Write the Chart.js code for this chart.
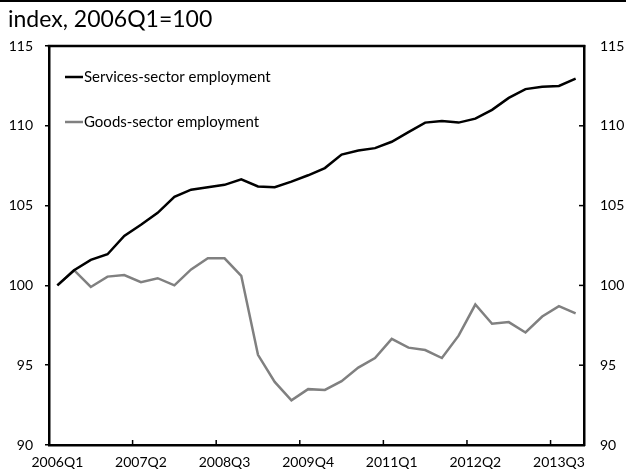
<!DOCTYPE html>
<html>
<head>
<meta charset="utf-8">
<script src="https://cdn.jsdelivr.net/npm/chart.js@4.4.1/dist/chart.umd.min.js"></script>
<style>
  body { margin: 0; background: #fff; }
  #wrap { position: relative; width: 626px; height: 476px; overflow: hidden; }
  #rule { position: absolute; left: 0; top: 0; width: 626px; height: 2px; background: #000; }
  #title { position: absolute; left: 8px; top: 7px; font-family: Lato, sans-serif; font-size: 23px; line-height: 23px; color: #000; white-space: nowrap; }
  canvas { position: absolute; left: 0; top: 0; }
</style>
</head>
<body>
<div id="wrap">
  <canvas id="chart" width="626" height="476"></canvas>
  <div id="rule"></div>
  <div id="title">index, 2006Q1=100</div>
</div>
<script>
const FONT = 'Lato';

const quarters = [
  '2006Q1', '2006Q2', '2006Q3', '2006Q4',
  '2007Q1', '2007Q2', '2007Q3', '2007Q4',
  '2008Q1', '2008Q2', '2008Q3', '2008Q4',
  '2009Q1', '2009Q2', '2009Q3', '2009Q4',
  '2010Q1', '2010Q2', '2010Q3', '2010Q4',
  '2011Q1', '2011Q2', '2011Q3', '2011Q4',
  '2012Q1', '2012Q2', '2012Q3', '2012Q4',
  '2013Q1', '2013Q2', '2013Q3', '2013Q4'
];

const services = [
  100.0, 100.95, 101.6, 101.95, 103.1, 103.8, 104.55, 105.55,
  106.0, 106.15, 106.3, 106.65, 106.2, 106.15, 106.5, 106.9,
  107.35, 108.2, 108.45, 108.6, 109.0, 109.6, 110.2, 110.3,
  110.2, 110.45, 111.0, 111.75, 112.3, 112.45, 112.5, 112.95
];

const goods = [
  100.0, 100.95, 99.9, 100.55, 100.65, 100.2, 100.45, 100.0,
  101.0, 101.7, 101.7, 100.6, 95.65, 93.95, 92.8, 93.5,
  93.45, 94.0, 94.85, 95.45, 96.65, 96.1, 95.95, 95.45,
  96.85, 98.8, 97.6, 97.7, 97.05, 98.05, 98.7, 98.25
];

const yTicks = [90, 95, 100, 105, 110, 115];
const labelEvery = 5;

const frame = {
  id: 'frame',
  afterDraw(chart) {
    const { ctx, chartArea: ca, scales } = chart;
    ctx.save();
    ctx.strokeStyle = '#000';
    ctx.lineWidth = 2.5;
    ctx.beginPath();
    ctx.moveTo(ca.left - 1.25, ca.top);
    ctx.lineTo(ca.right + 1.25, ca.top);
    ctx.stroke();

    // inward tick marks on the right axis
    ctx.lineWidth = 1.5;
    yTicks.forEach(v => {
      const y = scales.y2.getPixelForValue(v);
      ctx.beginPath();
      ctx.moveTo(ca.right - 5, y);
      ctx.lineTo(ca.right, y);
      ctx.stroke();
    });

    // inward tick marks on the x axis, between categories
    for (let k = labelEvery; k < quarters.length; k += labelEvery) {
      const x = (scales.x.getPixelForValue(k - 1) + scales.x.getPixelForValue(k)) / 2;
      ctx.beginPath();
      ctx.moveTo(x, ca.bottom);
      ctx.lineTo(x, ca.bottom - 5);
      ctx.stroke();
    }

    // legend inside the plot
    ctx.font = `15px ${FONT}`;
    ctx.textBaseline = 'middle';
    ctx.fillStyle = '#000';
    chart.data.datasets.forEach((ds, k) => {
      const y = ca.top + 31 + k * 45;
      ctx.strokeStyle = ds.borderColor;
      ctx.lineWidth = 2.5;
      ctx.beginPath();
      ctx.moveTo(ca.left + 16, y);
      ctx.lineTo(ca.left + 34, y);
      ctx.stroke();
      ctx.fillText(ds.label, ca.left + 35, y);
    });
    ctx.restore();
  }
};

const tickFont = { family: FONT, size: 14 };
const axisBorder = { color: '#000', width: 2.5 };

new Chart(document.getElementById('chart').getContext('2d'), {
  type: 'line',
  data: {
    labels: quarters,
    datasets: [
      {
        label: 'Services-sector employment',
        data: services,
        borderColor: '#000000',
        borderWidth: 2.5,
        pointRadius: 0,
        tension: 0,
        yAxisID: 'y'
      },
      {
        label: 'Goods-sector employment',
        data: goods,
        borderColor: '#808080',
        borderWidth: 2.5,
        pointRadius: 0,
        tension: 0,
        yAxisID: 'y'
      }
    ]
  },
  options: {
    responsive: false,
    animation: false,
    layout: { padding: { top: 46, left: 0, right: 0, bottom: 0 } },
    plugins: {
      legend: { display: false },
      tooltip: { enabled: false }
    },
    scales: {
      x: {
        offset: true,
        grid: { display: false, drawTicks: false },
        border: axisBorder,
        ticks: {
          autoSkip: false,
          maxRotation: 0,
          padding: 9,
          color: '#000',
          font: tickFont,
          callback: (v, i) => (i % labelEvery === 0 ? quarters[i] : '')
        },
        afterFit: s => { s.height = 31; }
      },
      y: {
        position: 'left',
        min: 90,
        max: 115,
        ticks: { stepSize: 5, padding: 12, color: '#000', font: tickFont },
        grid: { drawOnChartArea: false, drawTicks: true, tickLength: 4, color: '#000', lineWidth: 1.5 },
        border: axisBorder,
        afterFit: s => { s.width = 49; }
      },
      y2: {
        position: 'right',
        min: 90,
        max: 115,
        ticks: { stepSize: 5, padding: 16, color: '#000', font: tickFont },
        grid: { display: false, drawTicks: false },
        border: axisBorder,
        afterFit: s => { s.width = 42; }
      }
    }
  },
  plugins: [frame]
});
</script>
</body>
</html>
